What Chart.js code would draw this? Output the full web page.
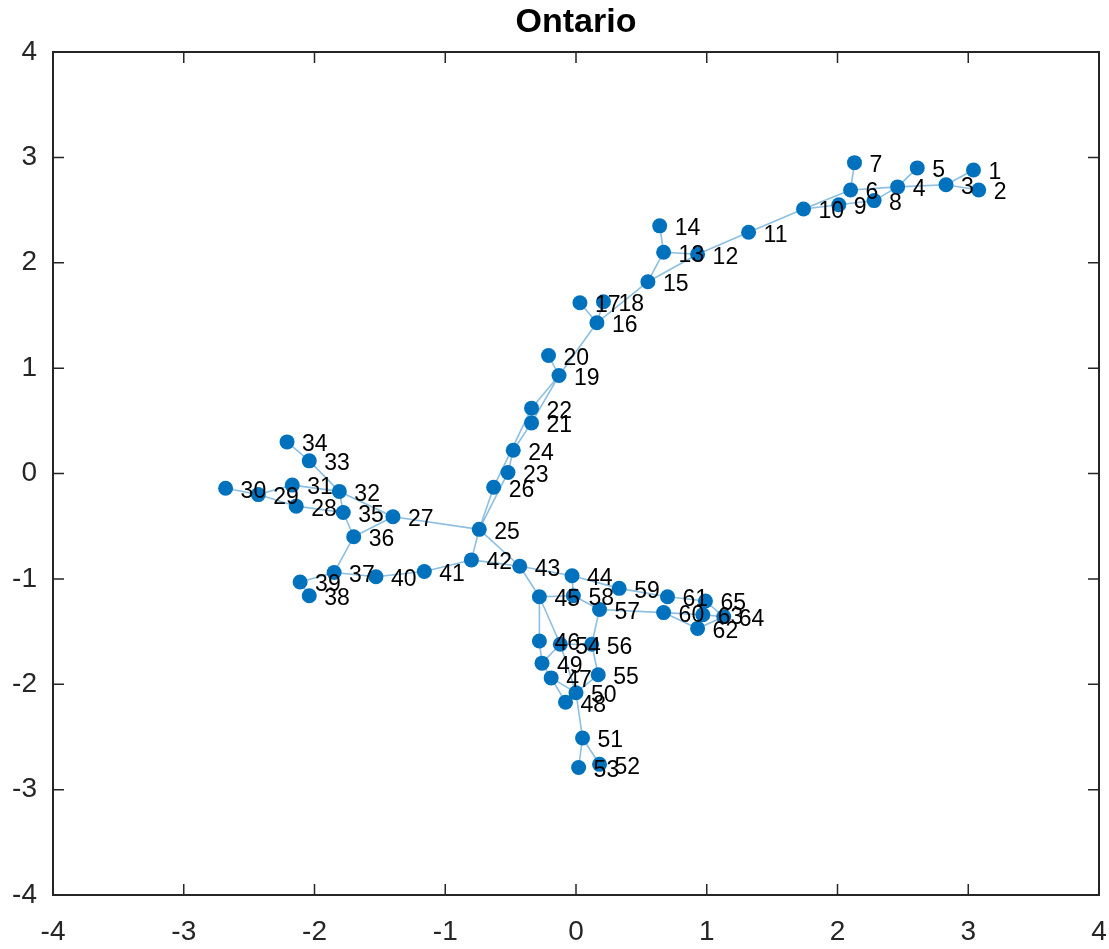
<!DOCTYPE html>
<html>
<head>
<meta charset="utf-8">
<script src="https://cdn.jsdelivr.net/npm/chart.js@4.4.1/dist/chart.umd.min.js"></script>
<style>
  html, body { margin: 0; padding: 0; background: #fff; }
  canvas { display: block; }
</style>
</head>
<body>
<canvas id="graphPlot" width="1109" height="949"></canvas>
<script>
// Node coordinates (node i is index i-1)
const nodeX = [
  3.04, 3.08, 2.83, 2.46, 2.61, 2.10, 2.13, 2.28, 2.01, 1.74,
  1.32, 0.93, 0.67, 0.64, 0.55, 0.16, 0.03, 0.21, -0.13, -0.21,
  -0.34, -0.34, -0.52, -0.48, -0.74, -0.63, -1.40, -2.14, -2.43, -2.68,
  -2.17, -1.81, -2.04, -2.21, -1.78, -1.70, -1.85, -2.04, -2.11, -1.53,
  -1.16, -0.80, -0.43, -0.03, -0.28, -0.28, -0.19, -0.08, -0.26, 0.00,
  0.05, 0.18, 0.02, -0.12, 0.17, 0.12, 0.18, -0.02, 0.33, 0.67,
  0.70, 0.93, 0.97, 1.13, 0.99
];
const nodeY = [
  2.88, 2.69, 2.74, 2.72, 2.90, 2.69, 2.95, 2.59, 2.55, 2.51,
  2.29, 2.08, 2.10, 2.35, 1.82, 1.43, 1.62, 1.63, 0.93, 1.12,
  0.48, 0.62, 0.01, 0.22, -0.53, -0.13, -0.41, -0.31, -0.20, -0.14,
  -0.11, -0.17, 0.12, 0.30, -0.37, -0.60, -0.94, -1.16, -1.03, -0.98,
  -0.93, -0.82, -0.88, -0.97, -1.17, -1.59, -1.94, -2.17, -1.80, -2.08,
  -2.51, -2.76, -2.79, -1.62, -1.91, -1.62, -1.29, -1.16, -1.09, -1.32,
  -1.17, -1.47, -1.34, -1.36, -1.21
];
// Edges as [from, to] node numbers
const edges = [
  [1, 3], [2, 3], [3, 4], [4, 5], [4, 6], [4, 8], [6, 7], [6, 10], [8, 9], [9, 10],
  [10, 11], [11, 12], [12, 13], [12, 15], [13, 14], [13, 15], [15, 16], [16, 17], [16, 18], [16, 19],
  [19, 20], [19, 21], [19, 22], [21, 24], [22, 26], [24, 23], [23, 25], [26, 25], [25, 27], [25, 42],
  [25, 43], [27, 32], [27, 36], [35, 36], [28, 35], [31, 32], [29, 31], [29, 30], [28, 29], [32, 33],
  [33, 34], [32, 35], [36, 37], [37, 39], [38, 39], [37, 40], [40, 41], [41, 42], [42, 43], [43, 44],
  [43, 45], [44, 59], [44, 58], [45, 58], [45, 46], [45, 54], [46, 49], [49, 54], [49, 47], [47, 48],
  [47, 50], [48, 50], [54, 56], [54, 50], [56, 57], [56, 55], [55, 50], [50, 51], [51, 53], [51, 52],
  [57, 58], [57, 60], [59, 61], [61, 65], [65, 63], [65, 64], [60, 63], [60, 62], [62, 64], [63, 64]
];
const tickValues = [-4, -3, -2, -1, 0, 1, 2, 3, 4];
const titleText = 'Ontario';

const nodeColor = '#0072BD';
const edgeColor = 'rgba(0, 114, 189, 0.45)';
const axisColor = '#262626';
const fontFamily = '"Liberation Sans", Arial, Helvetica, sans-serif';

// node points
const nodePoints = nodeX.map((x, i) => ({ x: x, y: nodeY[i] }));

// edges as one broken line: a, b, gap, a, b, gap ...
const edgePoints = [];
edges.forEach(([a, b]) => {
  edgePoints.push({ x: nodeX[a - 1], y: nodeY[a - 1] });
  edgePoints.push({ x: nodeX[b - 1], y: nodeY[b - 1] });
  edgePoints.push({ x: null, y: null });
});

// box, inward ticks, node labels and title
const graphDecor = {
  id: 'graphDecor',
  afterDatasetsDraw(chart) {
    const ctx = chart.ctx;
    const xs = chart.scales.x;
    const ys = chart.scales.y;
    const area = chart.chartArea;

    // node labels, to the right of each node
    ctx.save();
    ctx.fillStyle = '#000';
    ctx.font = '23px ' + fontFamily;
    ctx.textAlign = 'left';
    ctx.textBaseline = 'middle';
    nodeX.forEach((x, i) => {
      const px = xs.getPixelForValue(x);
      const py = ys.getPixelForValue(nodeY[i]);
      ctx.fillText(String(i + 1), px + 15, py + 3);
    });
    ctx.restore();

    // axes box + ticks pointing inward
    ctx.save();
    ctx.strokeStyle = axisColor;
    ctx.lineWidth = 2;
    ctx.strokeRect(area.left, area.top, area.right - area.left, area.bottom - area.top);
    ctx.lineWidth = 1.5;
    const tl = 11;
    ctx.beginPath();
    tickValues.forEach(v => {
      const px = xs.getPixelForValue(v);
      ctx.moveTo(px, area.bottom); ctx.lineTo(px, area.bottom - tl);
      ctx.moveTo(px, area.top); ctx.lineTo(px, area.top + tl);
      const py = ys.getPixelForValue(v);
      ctx.moveTo(area.left, py); ctx.lineTo(area.left + tl, py);
      ctx.moveTo(area.right, py); ctx.lineTo(area.right - tl, py);
    });
    ctx.stroke();

    // title
    ctx.fillStyle = '#000';
    ctx.font = 'bold 34px ' + fontFamily;
    ctx.textAlign = 'center';
    ctx.textBaseline = 'middle';
    ctx.fillText(titleText, (area.left + area.right) / 2, 23);
    ctx.restore();
  }
};

new Chart(document.getElementById('graphPlot').getContext('2d'), {
  type: 'scatter',
  data: {
    datasets: [
      {
        type: 'line',
        label: 'edges',
        data: edgePoints,
        borderColor: edgeColor,
        borderWidth: 1.6,
        pointRadius: 0,
        spanGaps: false,
        fill: false,
        tension: 0,
        order: 2
      },
      {
        label: 'nodes',
        data: nodePoints,
        backgroundColor: nodeColor,
        borderColor: nodeColor,
        pointRadius: 7.5,
        borderWidth: 0,
        order: 1
      }
    ]
  },
  options: {
    responsive: false,
    animation: false,
    layout: { padding: { top: 52, right: 10, left: 0, bottom: 0 } },
    plugins: {
      legend: { display: false },
      title: { display: false },
      tooltip: { enabled: false }
    },
    scales: {
      x: {
        type: 'linear',
        min: -4,
        max: 4,
        grid: { display: false, drawTicks: false },
        border: { display: false },
        afterFit: (scale) => {
          scale.height = 54;
          scale.paddingLeft = 0;
          scale.paddingRight = 0;
        },
        ticks: {
          stepSize: 1,
          padding: 20,
          color: axisColor,
          font: { size: 28, family: fontFamily }
        }
      },
      y: {
        type: 'linear',
        min: -4,
        max: 4,
        grid: { display: false, drawTicks: false },
        border: { display: false },
        afterFit: (scale) => {
          scale.width = 53;
          scale.paddingTop = 0;
          scale.paddingBottom = 0;
        },
        ticks: {
          stepSize: 1,
          padding: 16,
          color: axisColor,
          font: { size: 28, family: fontFamily }
        }
      }
    }
  },
  plugins: [graphDecor]
});
</script>
</body>
</html>
